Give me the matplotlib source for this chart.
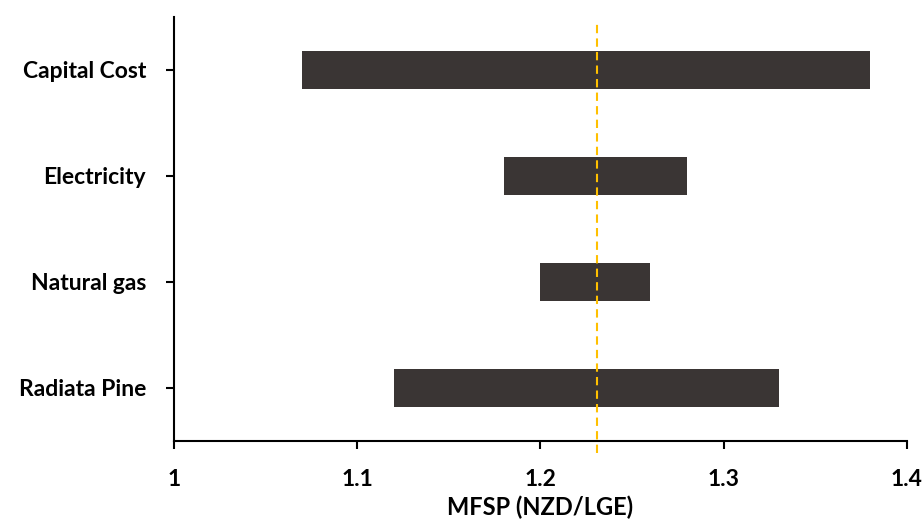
import matplotlib
matplotlib.use("Agg")
import matplotlib.pyplot as plt

categories = ["Capital Cost", "Electricity", "Natural gas", "Radiata Pine"]
low_values = [1.07, 1.18, 1.20, 1.12]
high_values = [1.38, 1.28, 1.26, 1.33]
base_value = 1.231
x_ticks = [1.0, 1.1, 1.2, 1.3, 1.4]
x_tick_labels = ["1", "1.1", "1.2", "1.3", "1.4"]

plt.rcParams['font.family'] = ['Lato', 'DejaVu Sans']
plt.rcParams['font.weight'] = 'bold'

fig = plt.figure(figsize=(9.24, 5.29), dpi=100)
ax = fig.add_axes([174/924, 1-441/529, (907-174)/924, (441-17)/529])

n = len(categories)
ypos = [n - 1 - i for i in range(n)]
widths = [h - l for l, h in zip(low_values, high_values)]
ax.barh(ypos, widths, left=low_values, height=0.36, color="#3a3534", zorder=2)

ax.plot([base_value, base_value], [-0.61, n - 0.54], color="#FFC000",
        linestyle=(0, (4, 2.5)), linewidth=1.5, clip_on=False, zorder=3)

fs = 16.5
ax.set_xlim(1.0, 1.4)
ax.set_ylim(-0.5, n - 0.5)
ax.set_xticks(x_ticks)
ax.set_xticklabels(x_tick_labels, fontsize=fs, fontweight='bold')
ax.set_yticks(ypos)
ax.set_yticklabels(categories, fontsize=fs, fontweight='bold')
ax.tick_params(axis='x', direction='out', length=6, width=1.5, pad=14)
ax.tick_params(axis='y', direction='out', length=6, width=1.5, pad=14)
for s in ['top', 'right']:
    ax.spines[s].set_visible(False)
for s in ['left', 'bottom']:
    ax.spines[s].set_linewidth(1.5)
ax.set_xlabel("MFSP (NZD/LGE)", fontsize=17, fontweight='bold', labelpad=4)

fig.savefig("out.png", dpi=100)
